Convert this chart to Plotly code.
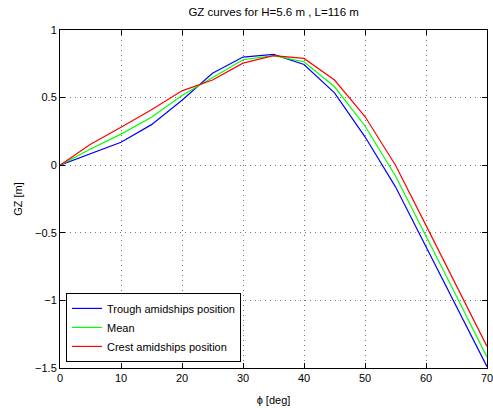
import plotly.graph_objects as go

phi = [0, 5, 10, 15, 20, 25, 30, 35, 40, 45, 50, 55, 60, 65, 70]
gz_trough = [0, 0.085, 0.17, 0.30, 0.48, 0.68, 0.80, 0.82, 0.745, 0.535, 0.21, -0.16, -0.60, -1.05, -1.49]
gz_mean = [0, 0.12, 0.23, 0.355, 0.515, 0.645, 0.78, 0.81, 0.765, 0.58, 0.29, -0.08, -0.52, -0.97, -1.42]
gz_crest = [0, 0.155, 0.28, 0.41, 0.55, 0.63, 0.755, 0.81, 0.79, 0.63, 0.36, 0.0, -0.445, -0.89, -1.34]

names = ["Trough amidships position", "Mean", "Crest amidships position"]
colors = ["#0000ff", "#00ff00", "#ff0000"]

fig = go.Figure()
for name, ys, c in zip(names, [gz_trough, gz_mean, gz_crest], colors):
    fig.add_trace(go.Scatter(x=phi, y=ys, mode="lines", name=name,
                             line=dict(color=c, width=1.2)))

font = "Liberation Sans, Arial, sans-serif"
axis_common = dict(
    showline=True, linecolor="black", linewidth=1, mirror="ticks",
    ticks="inside", ticklen=5, tickcolor="black",
    showgrid=True, gridcolor="#777777", griddash="1px,4px", gridwidth=1,
    zeroline=False, automargin=False, ticklabeloverflow="allow",
    tickfont=dict(size=11, color="black", family=font),
)
fig.update_xaxes(range=[0, 70], tickvals=[0, 10, 20, 30, 40, 50, 60, 70],
                 title=dict(text="ϕ [deg]", font=dict(size=11, color="black", family=font), standoff=13),
                 **axis_common)
fig.update_yaxes(range=[-1.5, 1], tickvals=[-1.5, -1, -0.5, 0, 0.5, 1],
                 ticktext=["−1.5", "−1", "−0.5", "0", "0.5", "1"],
                 title=dict(text="GZ [m]", font=dict(size=11, color="black", family=font), standoff=10),
                 **axis_common)
fig.update_layout(
    width=493, height=408,
    margin=dict(l=60, r=6, t=30, b=40),
    paper_bgcolor="white", plot_bgcolor="white",
    title=dict(text="GZ curves for H=5.6 m , L=116 m", x=0.555, xanchor="center",
               y=0.97, yanchor="middle", font=dict(size=11.5, color="black", family=font)),
    legend=dict(x=0.014, y=0.018, xanchor="left", yanchor="bottom",
                bgcolor="white", bordercolor="black", borderwidth=1,
                font=dict(size=11, color="black", family=font),
                tracegroupgap=0, itemwidth=30),
    showlegend=True,
)
fig.write_html("out.html", config={"displayModeBar": False},
               post_script="document.body.style.margin='0';document.body.style.overflow='hidden';")
